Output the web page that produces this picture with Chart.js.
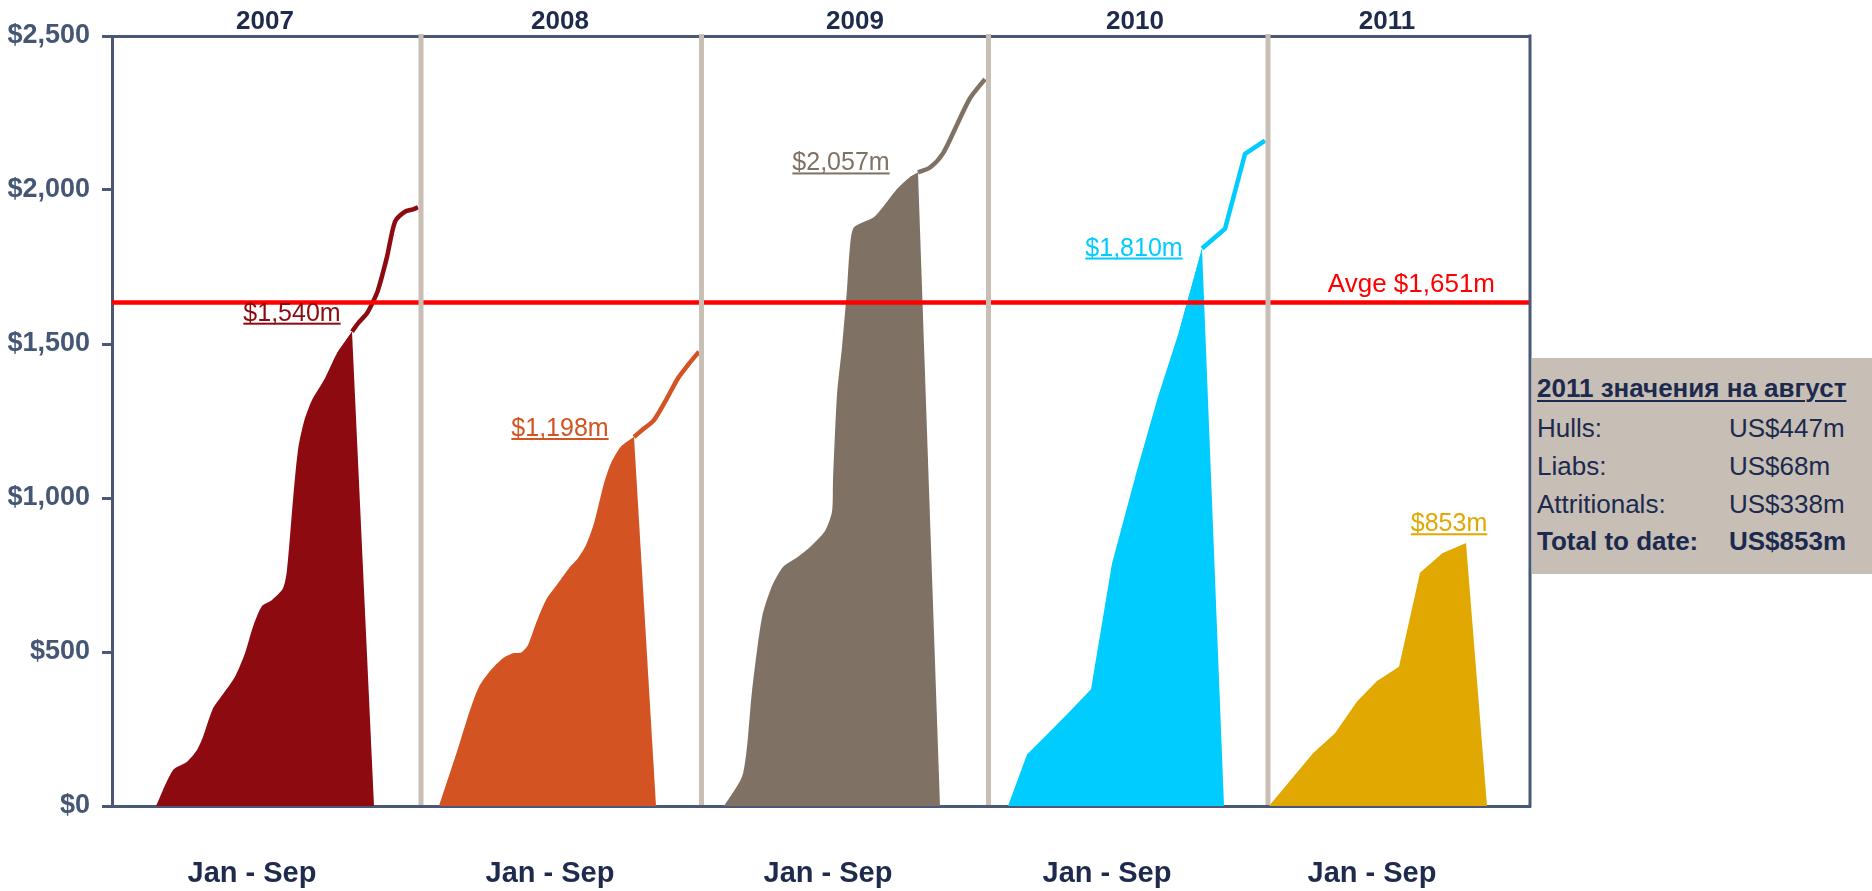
<!DOCTYPE html>
<html>
<head>
<meta charset="utf-8">
<script src="https://cdn.jsdelivr.net/npm/chart.js@4.4.1/dist/chart.umd.min.js"></script>
<style>
  html, body { margin: 0; padding: 0; background: #fff; }
  #wrap { position: relative; width: 1872px; height: 891px; }
  #box {
    position: absolute; left: 1532px; top: 358px; width: 340px; height: 216px;
    background: #C7BEB5; color: #1B2A4E; box-sizing: border-box; padding: 15px 0 0 5px;
    font-family: "Liberation Sans", Arial, sans-serif;
  }
  #box .title {
    font-weight: bold; font-size: 26px; line-height: 30px; white-space: nowrap;
    text-decoration: underline; text-decoration-thickness: 2px; text-underline-offset: 3px;
    margin-bottom: 7px;
  }
  #box .row { display: flex; font-size: 26px; line-height: 37.8px; white-space: nowrap; }
  #box .row span:first-child { width: 192px; }
  #box .row.total { font-weight: bold; }
</style>
</head>
<body>
<div id="wrap">
  <canvas id="chart"></canvas>
  <div id="box">
    <div class="title">2011 значения на август</div>
    <div class="row"><span>Hulls:</span><span>US$447m</span></div>
    <div class="row"><span>Liabs:</span><span>US$68m</span></div>
    <div class="row"><span>Attritionals:</span><span>US$338m</span></div>
    <div class="row total"><span>Total to date:</span><span>US$853m</span></div>
  </div>
</div>
<script>
// cumulative losses, position on the shared timeline (t) and value in $m
const years = ["2007", "2008", "2009", "2010", "2011"];

const t2007 = [44, 61, 75, 85, 91, 101, 108, 123, 133, 141, 150, 160, 171, 175, 181, 186, 192, 200, 213, 225, 240, 246, 255, 261, 266, 275, 283, 293, 301, 306];
const v2007 = [0, 117, 144, 182, 225, 317, 350, 420, 496, 582, 649, 669, 707, 766, 994, 1156, 1248, 1318, 1389, 1470, 1540, 1567, 1600, 1637, 1675, 1783, 1897, 1930, 1937, 1944];

const t2008 = [327, 346, 357, 367, 379, 391, 401, 409, 416, 424, 434, 446, 457, 466, 474, 482, 492, 499, 509, 522, 531, 542, 554, 566, 576, 587];
const v2008 = [0, 187, 301, 387, 442, 480, 496, 498, 523, 593, 669, 723, 772, 804, 847, 918, 1048, 1113, 1167, 1198, 1223, 1253, 1318, 1389, 1432, 1475];

const t2009 = [612, 631, 640, 650, 660, 671, 685, 698, 713, 720, 721, 725, 730, 735, 738, 742, 761, 770, 785, 798, 806, 818, 831, 845, 858, 873];
const v2009 = [0, 105, 372, 613, 714, 776, 807, 841, 893, 955, 1056, 1335, 1490, 1677, 1817, 1879, 1910, 1941, 2003, 2042, 2057, 2073, 2119, 2212, 2298, 2360];

const t2010 = [896, 915, 936, 956, 979, 1000, 1025, 1046, 1067, 1090, 1113, 1133, 1153];
const v2010 = [0, 167, 235, 301, 379, 787, 1090, 1329, 1540, 1810, 1874, 2117, 2160];

const t2011 = [1157, 1201, 1223, 1245, 1265, 1287, 1308, 1330, 1354];
const v2011 = [0, 171, 236, 339, 406, 452, 757, 820, 853];

// index of the Jan-Sep (to date) point, and where its shaded area drops back to zero
const toDate = [20, 19, 20, 9, 8];
const dropT = [262, 544, 828, 1112, 1375];

const avgLevel = 1635;
const avgText = "Avge $1,651m";

const panelEdges = [309, 589.5, 876.5, 1156];
const yearTickAt = [153, 448, 743, 1023, 1275];
const periodTickAt = [140, 438, 716, 995, 1260];
const tMax = 1418;

const series = [
  { t: t2007, v: v2007 },
  { t: t2008, v: v2008 },
  { t: t2009, v: v2009 },
  { t: t2010, v: v2010 },
  { t: t2011, v: v2011 },
];

const colors = ["#8C0A10", "#D35322", "#7F7264", "#00CCFF", "#E0A800"];
const tension = [0.25, 0.25, 0.25, 0, 0];
const AXIS = "#4A5876";
const NAVY = "#1F2B4D";
const SEP = "#C8BEB4";
const FONT = '"Liberation Sans", Arial, sans-serif';
// label offset from the to-date point, px
const labelShift = [[-60, -11], [-74, -1], [-77, -2], [-68, 7], [-17, -12]];

const fmt = v => "$" + v.toLocaleString("en-US");

const datasets = [
  {
    label: "avg",
    data: [{ x: 0, y: avgLevel }, { x: tMax, y: avgLevel }],
    borderColor: "#FF0000",
    borderWidth: 4.5,
    pointRadius: 0,
    fill: false,
    order: 0,
  },
];

years.forEach((yr, i) => {
  const pts = series[i].t.map((t, k) => ({ x: t, y: series[i].v[k] }));
  const k = toDate[i];
  // rising part to date
  datasets.push({
    label: yr,
    data: pts.slice(0, k + 1),
    fill: "origin",
    backgroundColor: colors[i],
    borderWidth: 0,
    pointRadius: 0,
    tension: tension[i],
    order: 3,
  });
  // edge falling back to zero after the to-date point
  datasets.push({
    label: yr + " edge",
    data: pts.slice(k - 1, k + 1).concat([{ x: dropT[i], y: 0 }]),
    fill: "origin",
    backgroundColor: colors[i],
    borderWidth: 0,
    pointRadius: 0,
    tension: 0,
    order: 2,
  });
  // rest of the year
  datasets.push({
    label: yr + " rest",
    data: pts.slice(k),
    fill: false,
    borderColor: colors[i],
    borderWidth: 4.5,
    borderJoinStyle: "round",
    pointRadius: 0,
    tension: tension[i],
    order: 1,
  });
});

const overlay = {
  id: "overlay",
  afterDatasetsDraw(chart) {
    const { ctx, chartArea: area } = chart;
    const x = chart.scales.x;
    const y = chart.scales.y;
    ctx.save();

    ctx.lineWidth = 5;
    ctx.strokeStyle = SEP;
    panelEdges.forEach(t => {
      const px = x.getPixelForValue(t);
      ctx.beginPath();
      ctx.moveTo(px, area.top - 2);
      ctx.lineTo(px, area.bottom - 1);
      ctx.stroke();
    });

    ctx.lineWidth = 3;
    ctx.strokeStyle = AXIS;
    ctx.beginPath();
    ctx.moveTo(area.right, area.top - 1.5);
    ctx.lineTo(area.right, area.bottom + 1.5);
    ctx.stroke();

    ctx.font = "25px " + FONT;
    ctx.textAlign = "center";
    ctx.textBaseline = "alphabetic";
    years.forEach((yr, i) => {
      const k = toDate[i];
      const val = series[i].v[k];
      const text = fmt(val) + "m";
      const px = x.getPixelForValue(series[i].t[k]) + labelShift[i][0];
      const py = y.getPixelForValue(val) + labelShift[i][1];
      ctx.fillStyle = colors[i];
      ctx.fillText(text, px, py);
      const w = ctx.measureText(text).width;
      ctx.fillRect(px - w / 2, py + 2, w, 2);
    });

    ctx.font = "26px " + FONT;
    ctx.fillStyle = "#FF0000";
    ctx.textAlign = "right";
    ctx.fillText(avgText, area.right - 35, y.getPixelForValue(avgLevel) - 10);
    ctx.restore();
  },
};

new Chart(document.getElementById("chart"), {
  type: "line",
  data: { datasets },
  options: {
    responsive: true,
    maintainAspectRatio: false,
    animation: false,
    layout: { padding: { left: 0, right: 342, top: 0, bottom: 0 } },
    plugins: { legend: { display: false }, tooltip: { enabled: false } },
    scales: {
      x: {
        type: "linear",
        position: "bottom",
        min: 0,
        max: tMax,
        afterBuildTicks: s => { s.ticks = periodTickAt.map(v => ({ value: v })); },
        afterFit: s => { s.height = 85; },
        grid: { display: false, drawTicks: false },
        border: { display: true, color: AXIS, width: 3 },
        ticks: {
          callback: () => "Jan - Sep",
          autoSkip: false,
          maxRotation: 0,
          padding: 51,
          color: NAVY,
          font: { family: FONT, size: 29, weight: "bold" },
        },
      },
      xTop: {
        type: "linear",
        axis: "x",
        position: "top",
        min: 0,
        max: tMax,
        afterBuildTicks: s => { s.ticks = yearTickAt.map(v => ({ value: v })); },
        afterFit: s => { s.height = 36; },
        grid: { display: false, drawTicks: false },
        border: { display: true, color: AXIS, width: 3 },
        ticks: {
          callback: (v, i) => years[i],
          autoSkip: false,
          maxRotation: 0,
          padding: -1,
          color: NAVY,
          font: { family: FONT, size: 26, weight: "bold" },
        },
      },
      y: {
        min: 0,
        max: 2500,
        afterFit: s => { s.width = 112; },
        grid: { drawOnChartArea: false, drawTicks: true, tickLength: 10, tickWidth: 3, tickColor: AXIS },
        border: { display: true, color: AXIS, width: 3 },
        ticks: {
          stepSize: 500,
          padding: 12,
          color: "#465675",
          font: { family: FONT, size: 27, weight: "bold" },
          callback: v => fmt(v),
        },
      },
    },
  },
  plugins: [overlay],
});
</script>
</body>
</html>
